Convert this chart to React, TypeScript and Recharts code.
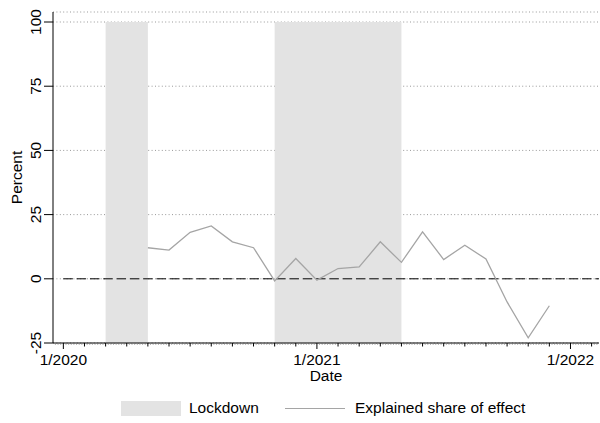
import React from 'react';
import {
  ComposedChart,
  Line,
  XAxis,
  YAxis,
  CartesianGrid,
  ReferenceArea,
  ReferenceLine,
} from 'recharts';

// months since January 2020
const months = [4, 5, 6, 7, 8, 9, 10, 11, 12, 13, 14, 15, 16, 17, 18, 19, 20, 21, 22, 23];
const explainedShare = [
  12.1, 11.2, 18.1, 20.6, 14.4, 12.1, -0.8, 7.9, -0.5, 4.0, 4.6, 14.4, 6.4, 18.3, 7.5, 13.1,
  7.7, -9.0, -23.0, -10.5,
];
const lockdownStart = [2, 10];
const lockdownEnd = [4, 16];
const yTicks = [-25, 0, 25, 50, 75, 100];
const majorTickMonths = [0, 12, 24];
const majorTickLabels = ['1/2020', '1/2021', '1/2022'];

const data = months.map((m, i) => ({ m, share: explainedShare[i] }));

const X_MIN = -0.49;
const X_MAX = 25.35;
const xTicks: number[] = [];
for (let k = Math.ceil(X_MIN * 8); k <= Math.floor(X_MAX * 8); k++) xTicks.push(k / 8);

const FONT = '"Liberation Sans", Arial, sans-serif';
const FS = 15.5;

const XTick = (props: any) => {
  const { x, y, payload } = props;
  const v = payload.value as number;
  const isInt = Math.abs(v - Math.round(v)) < 1e-6;
  const idx = majorTickMonths.indexOf(Math.round(v));
  if (isInt && idx >= 0) {
    return (
      <g>
        <line x1={x} x2={x} y1={y} y2={y + 6} stroke="#000" strokeWidth={1} />
        <text x={x} y={y + 21.5} textAnchor="middle" fontSize={FS} fontFamily={FONT} fill="#000">
          {majorTickLabels[idx]}
        </text>
      </g>
    );
  }
  if (isInt) {
    return <line x1={x} x2={x} y1={y} y2={y + 3.5} stroke="#000" strokeWidth={1} />;
  }
  return <line x1={x} x2={x} y1={y} y2={y + 1.8} stroke="#777" strokeWidth={0.7} />;
};

const YTick = (props: any) => {
  const { x, y, payload } = props;
  const tx = x - 1;
  return (
    <text
      x={tx}
      y={y}
      transform={`rotate(-90, ${tx}, ${y})`}
      textAnchor="middle"
      fontSize={FS}
      fontFamily={FONT}
      fill="#000"
    >
      {payload.value}
    </text>
  );
};

export default function App() {
  return (
    <div style={{ position: 'absolute', left: 0, top: 0, width: 600, height: 423, background: '#fff', fontFamily: FONT }}>
      <ComposedChart width={600} height={423} data={data} margin={{ top: 12, right: 1, left: 0, bottom: 40 }}>
        <CartesianGrid vertical={false} stroke="#999" strokeDasharray="1 2.4" />
        {lockdownStart.map((s, i) => (
          <ReferenceArea
            key={i}
            x1={s}
            x2={lockdownEnd[i]}
            y1={-25}
            y2={100}
            fill="#e3e3e3"
            fillOpacity={1}
            stroke="none"
            ifOverflow="visible"
          />
        ))}
        <ReferenceLine
          segment={[
            { x: 0, y: 0 },
            { x: X_MAX, y: 0 },
          ]}
          stroke="#000"
          strokeWidth={1}
          strokeDasharray="9.5 3.8"
          ifOverflow="visible"
        />
        <XAxis
          dataKey="m"
          type="number"
          domain={[X_MIN, X_MAX]}
          allowDataOverflow
          ticks={xTicks}
          interval={0}
          tick={<XTick />}
          tickLine={false}
          tickSize={0}
          tickMargin={0}
          height={40}
          axisLine={{ stroke: '#000', strokeWidth: 1 }}
          label={{ value: 'Date', position: 'insideBottom', offset: 2, fontSize: FS, fill: '#000', fontFamily: FONT }}
        />
        <YAxis
          type="number"
          domain={[-25, 103.9]}
          allowDataOverflow
          ticks={yTicks}
          interval={0}
          width={53}
          tick={<YTick />}
          tickSize={9}
          tickMargin={2}
          tickLine={{ stroke: '#000' }}
          axisLine={{ stroke: '#000', strokeWidth: 1 }}
          label={{
            content: (p: any) => {
              const vb = p.viewBox || { x: 0, y: 12, height: 331 };
              const cx = 22;
              const cy = vb.y + vb.height / 2;
              return (
                <text
                  x={cx}
                  y={cy}
                  transform={`rotate(-90, ${cx}, ${cy})`}
                  textAnchor="middle"
                  fontSize={FS}
                  fontFamily={FONT}
                  fill="#000"
                >
                  Percent
                </text>
              );
            },
          }}
        />
        <Line
          dataKey="share"
          type="linear"
          stroke="#a5a5a5"
          strokeWidth={1.3}
          dot={false}
          activeDot={false}
          isAnimationActive={false}
        />
      </ComposedChart>
      <div style={{ position: 'absolute', left: 121, top: 401, width: 60, height: 15, background: '#e3e3e3' }} />
      <div style={{ position: 'absolute', left: 189, top: 399, fontSize: FS, lineHeight: '18px', color: '#000' }}>Lockdown</div>
      <div style={{ position: 'absolute', left: 285, top: 408, width: 60, height: 1.3, background: '#a5a5a5' }} />
      <div style={{ position: 'absolute', left: 355, top: 399, fontSize: FS, lineHeight: '18px', color: '#000' }}>
        Explained share of effect
      </div>
    </div>
  );
}
